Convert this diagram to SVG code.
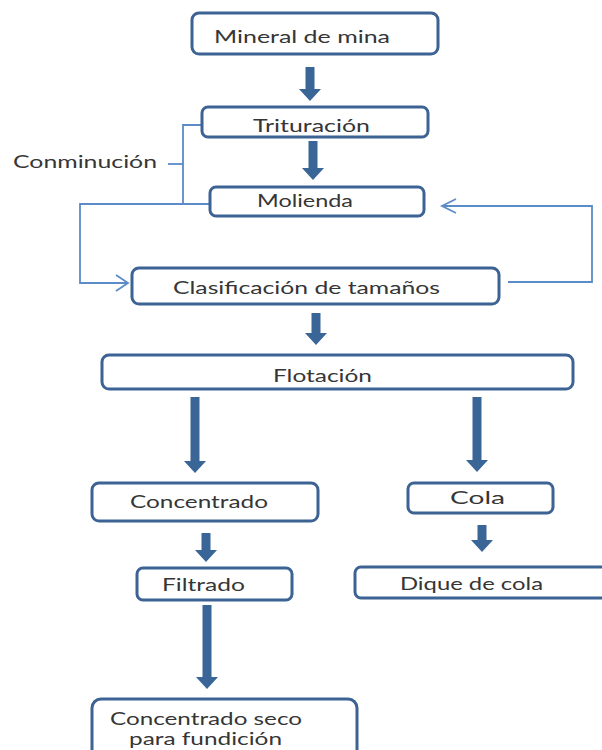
<svg xmlns="http://www.w3.org/2000/svg" width="602" height="750" viewBox="0 0 602 750">
<defs>
<style>
.box{fill:#fff;stroke:#3d6394;stroke-width:3}
.t{font-family:Lato,"Open Sans","Liberation Sans",sans-serif;font-size:18px;fill:#363636}
.arr{fill:#3a6597}
.thin{fill:none;stroke:#5b8bc8;stroke-width:1.8}
</style>
</defs>
<rect width="602" height="750" fill="#fff"/>
<g id="connectors">
<polygon class="arr" points="305.5,67 314.5,67 314.5,89 321,89 310,101 299,89 305.5,89"/>
<polygon class="arr" points="308.5,141 317.5,141 317.5,168 324,168 313,180 302,168 308.5,168"/>
<polygon class="arr" points="311.5,313 320.5,313 320.5,333 327,333 316,345 305,333 311.5,333"/>
<polygon class="arr" points="190.5,397 199.5,397 199.5,461 206,461 195,473 184,461 190.5,461"/>
<polygon class="arr" points="472.5,397 481.5,397 481.5,460 488,460 477,472 466,460 472.5,460"/>
<polygon class="arr" points="201.5,533 210.5,533 210.5,550 217,550 206,562 195,550 201.5,550"/>
<polygon class="arr" points="477.5,525 486.5,525 486.5,540 493,540 482,552 471,540 477.5,540"/>
<polygon class="arr" points="202.5,605 211.5,605 211.5,677 218,677 207,689 196,677 202.5,677"/>
<path class="thin" d="M202,125 H183 V204 H210"/>
<path class="thin" d="M168,164 H183"/>
<path class="thin" d="M183,204 H80 V283 H128"/>
<path class="thin" d="M116,275 L128,283 L116,291"/>
<path class="thin" d="M508,282 H592 V206 H442"/>
<path class="thin" d="M456,199 L442,206 L456,213"/>
</g>
<g id="n-mineral">
<rect class="box" x="192" y="13" width="246" height="41" rx="7"/>
<text class="t" x="214" y="43" textLength="176" lengthAdjust="spacingAndGlyphs">Mineral de mina</text>
</g>
<g id="n-trituracion">
<rect class="box" x="202" y="107" width="226" height="30" rx="6"/>
<text class="t" x="253" y="132" textLength="117" lengthAdjust="spacingAndGlyphs">Trituración</text>
</g>
<g id="n-conminucion">
<text class="t" x="13" y="168" textLength="144" lengthAdjust="spacingAndGlyphs">Conminución</text>
</g>
<g id="n-molienda">
<rect class="box" x="210" y="187" width="214" height="29" rx="6"/>
<text class="t" x="257" y="207" textLength="96" lengthAdjust="spacingAndGlyphs">Molienda</text>
</g>
<g id="n-clasificacion">
<rect class="box" x="132" y="268" width="367" height="36" rx="7"/>
<text class="t" x="173" y="294" textLength="267" lengthAdjust="spacingAndGlyphs">Clasificación de tamaños</text>
</g>
<g id="n-flotacion">
<rect class="box" x="102" y="355" width="471" height="34" rx="7"/>
<text class="t" x="273" y="382" textLength="99" lengthAdjust="spacingAndGlyphs">Flotación</text>
</g>
<g id="n-concentrado">
<rect class="box" x="92" y="483" width="226" height="38" rx="7"/>
<text class="t" x="130" y="508" textLength="138" lengthAdjust="spacingAndGlyphs">Concentrado</text>
</g>
<g id="n-cola">
<rect class="box" x="408" y="483" width="145" height="30" rx="6"/>
<text class="t" x="450" y="504" textLength="55" lengthAdjust="spacingAndGlyphs">Cola</text>
</g>
<g id="n-filtrado">
<rect class="box" x="137" y="568" width="155" height="32" rx="6"/>
<text class="t" x="162" y="591" textLength="83" lengthAdjust="spacingAndGlyphs">Filtrado</text>
</g>
<g id="n-dique">
<rect class="box" x="355" y="567" width="265" height="31" rx="6"/>
<text class="t" x="400" y="590" textLength="143" lengthAdjust="spacingAndGlyphs">Dique de cola</text>
</g>
<g id="n-seco">
<rect class="box" x="92" y="699" width="265" height="62" rx="9"/>
<text class="t" x="110" y="725" textLength="192" lengthAdjust="spacingAndGlyphs">Concentrado seco</text>
<text class="t" x="129" y="745" textLength="153" lengthAdjust="spacingAndGlyphs">para fundición</text>
</g>
</svg>
